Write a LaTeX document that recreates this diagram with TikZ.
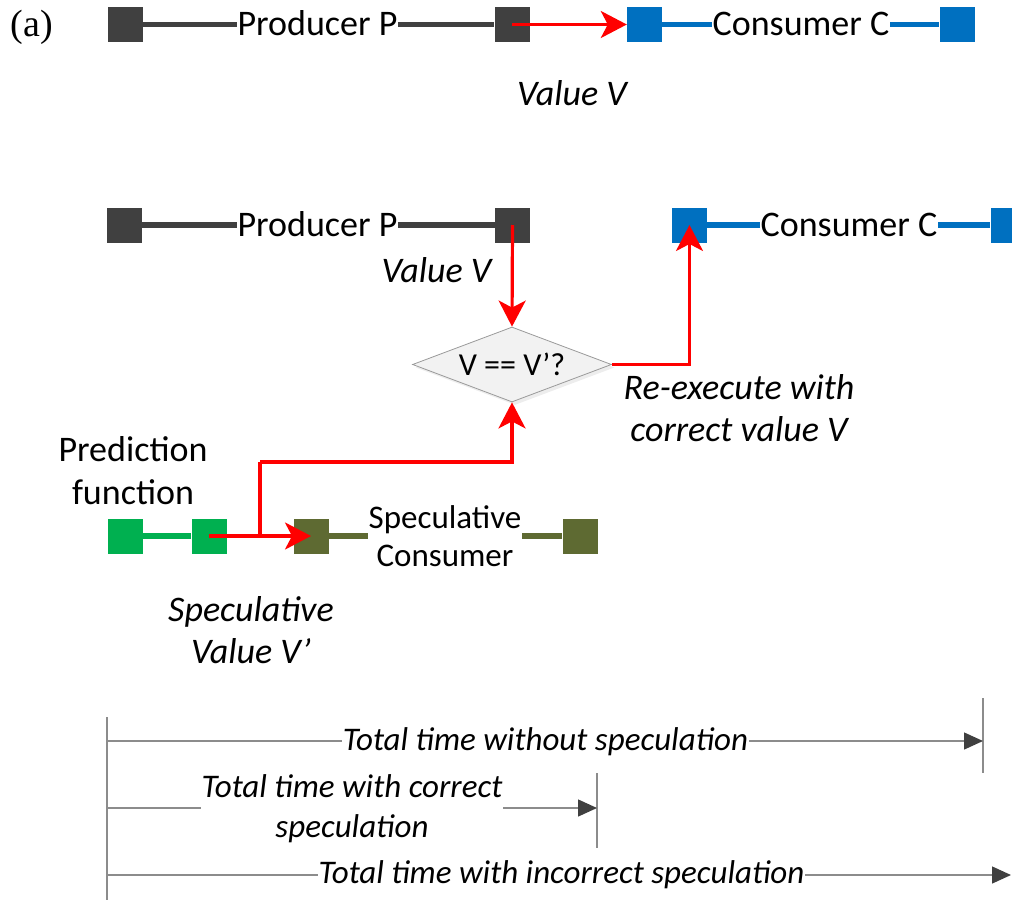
\documentclass[tikz,border=0pt]{standalone}
\usepackage{fontspec}
\setmainfont{Carlito}
\newfontfamily\tagserif{Liberation Serif}
\usetikzlibrary{arrows.meta,shapes.geometric,shadows,backgrounds}

\definecolor{unitgray}{HTML}{404040}
\definecolor{cblue}{HTML}{0070C0}
\definecolor{pgreen}{HTML}{00B050}
\definecolor{solive}{HTML}{5E6A32}
\definecolor{dfill}{HTML}{F2F2F2}
\definecolor{dborder}{HTML}{9A9A9A}
\definecolor{spangray}{HTML}{8C8C8C}
\definecolor{tipgray}{HTML}{404040}

\begin{document}
\begin{tikzpicture}[x=1pt,y=-1pt,
  blk/.style={minimum size=35pt, inner sep=0pt, fill=#1, draw=none},
  bar/.style={line width=5.5pt, draw=#1},
  lbl/.style={font=\fontsize{36}{42}\selectfont, fill=white, inner xsep=1pt, inner ysep=0pt},
  note/.style={font=\fontsize{36}{42}\selectfont\itshape, align=center, inner sep=0pt},
  plain/.style={font=\fontsize{36}{43}\selectfont, align=center, inner sep=0pt},
  sig/.style={draw=red, line width=3.2pt, -{Stealth[length=26pt,width=27pt,inset=7pt,color=red]}},
  sigline/.style={draw=red, line width=3.2pt},
  span/.style={draw=spangray, line width=1.4pt, -{Triangle[length=19pt,width=17pt,color=tipgray]}},
  tick/.style={draw=spangray, line width=1.3pt},
  spanlbl/.style={font=\fontsize{33}{40}\selectfont\itshape, fill=white, inner xsep=1pt, inner ysep=0pt, align=center}
]
\useasboundingbox (0,0) rectangle (1012,907);

% ---------- (a) sequential execution ----------
\node[font=\fontsize{38}{44}\selectfont\tagserif, anchor=base, inner sep=0pt] (tag) at (32,37) {(a)};

\node[blk=unitgray] (P1a) at (125,24.5) {};
\node[blk=unitgray] (P1b) at (512,24.5) {};
\node[blk=cblue] (C1a) at (644.5,24.5) {};
\node[blk=cblue] (C1b) at (957,24.5) {};
\begin{pgfonlayer}{background}
  \draw[bar=unitgray] (P1a) -- (P1b);
  \draw[bar=cblue] (C1a) -- (C1b);
\end{pgfonlayer}
\node[lbl, anchor=base] (prod1) at (317.5,36) {Producer P};
\node[lbl, anchor=base] (cons1) at (801,36) {Consumer C};
\draw[sig] (P1b.center) -- (C1a.west);
\node[note, anchor=base] (val1) at (572,105) {Value V};

% ---------- value speculation ----------
\node[blk=unitgray] (P2a) at (124.5,225) {};
\node[blk=unitgray] (P2b) at (512.5,225) {};
\node[blk=cblue] (C2a) at (689.5,225) {};
\node[blk=cblue] (C2b) at (1008,225) {};
\node[blk=pgreen] (G1) at (125,536) {};
\node[blk=pgreen] (G2) at (209,536) {};
\node[blk=solive] (O1) at (311,536) {};
\node[blk=solive] (O2) at (580,536) {};
\begin{pgfonlayer}{background}
  \draw[bar=unitgray] (P2a) -- (P2b);
  \draw[bar=cblue] (C2a) -- (C2b);
  \draw[bar=pgreen] (G1) -- (G2);
  \draw[bar=solive] (O1) -- (O2);
\end{pgfonlayer}
\node[lbl, anchor=base] (prod2) at (317.5,236) {Producer P};
\node[lbl, anchor=base] (cons2) at (849,236) {Consumer C};
\node[lbl, font=\fontsize{33}{38}\selectfont, align=center] (scons) at (445,536) {Speculative\\Consumer};

\node[diamond, aspect=2.65, inner sep=0pt, minimum width=199pt, minimum height=75pt,
      fill=dfill, draw=dborder, line width=0.8pt,
      drop shadow={shadow xshift=3pt, shadow yshift=-3pt, fill=black!14},
      font=\fontsize{32}{38}\selectfont] (chk) at (512,364.5) {V == V’?};

\node[note, anchor=base] (val2) at (436.5,282) {Value V};
\node[plain] (pred) at (133,471) {Prediction\\function};
\node[note] (reex) at (739,408) {Re-execute with\\correct value V};
\node[note] (sval) at (251,630) {Speculative\\Value V’};

\coordinate (split) at (260,536);
\coordinate (bend) at (260,462);
\draw[sig] (P2b.center) -- (chk.north);
\draw[sig] (chk.east) -| (C2a.center);
\draw[sigline] (split) -- (bend);
\draw[sig] (bend) -| (chk.south);
\draw[sig] (G2.center) -- (O1.center);

% ---------- timing spans ----------
\coordinate (t0top) at (107,717);
\coordinate (t0bot) at (107,900);
\coordinate (e1top) at (983,698);
\coordinate (e1bot) at (983,773);
\coordinate (e2top) at (597,773);
\coordinate (e2bot) at (597,848);
\draw[tick] (t0top) -- (t0bot);
\draw[tick] (e1top) -- (e1bot);
\draw[tick] (e2top) -- (e2bot);

\coordinate (s1) at (107,741);
\coordinate (f1) at (983,741);
\coordinate (s2) at (107,808);
\coordinate (f2) at (597,808);
\coordinate (s3) at (107,875);
\coordinate (f3) at (1011,875);
\draw[span] (s1) -- (f1);
\draw[span] (s2) -- (f2);
\draw[span] (s3) -- (f3);
\node[spanlbl, anchor=base] (tw) at (545.5,750) {Total time without speculation};
\node[spanlbl] (tc) at (352,808.5) {Total time with correct\\speculation};
\node[spanlbl, anchor=base] (ti) at (561.5,883) {Total time with incorrect speculation};
\end{tikzpicture}
\end{document}
